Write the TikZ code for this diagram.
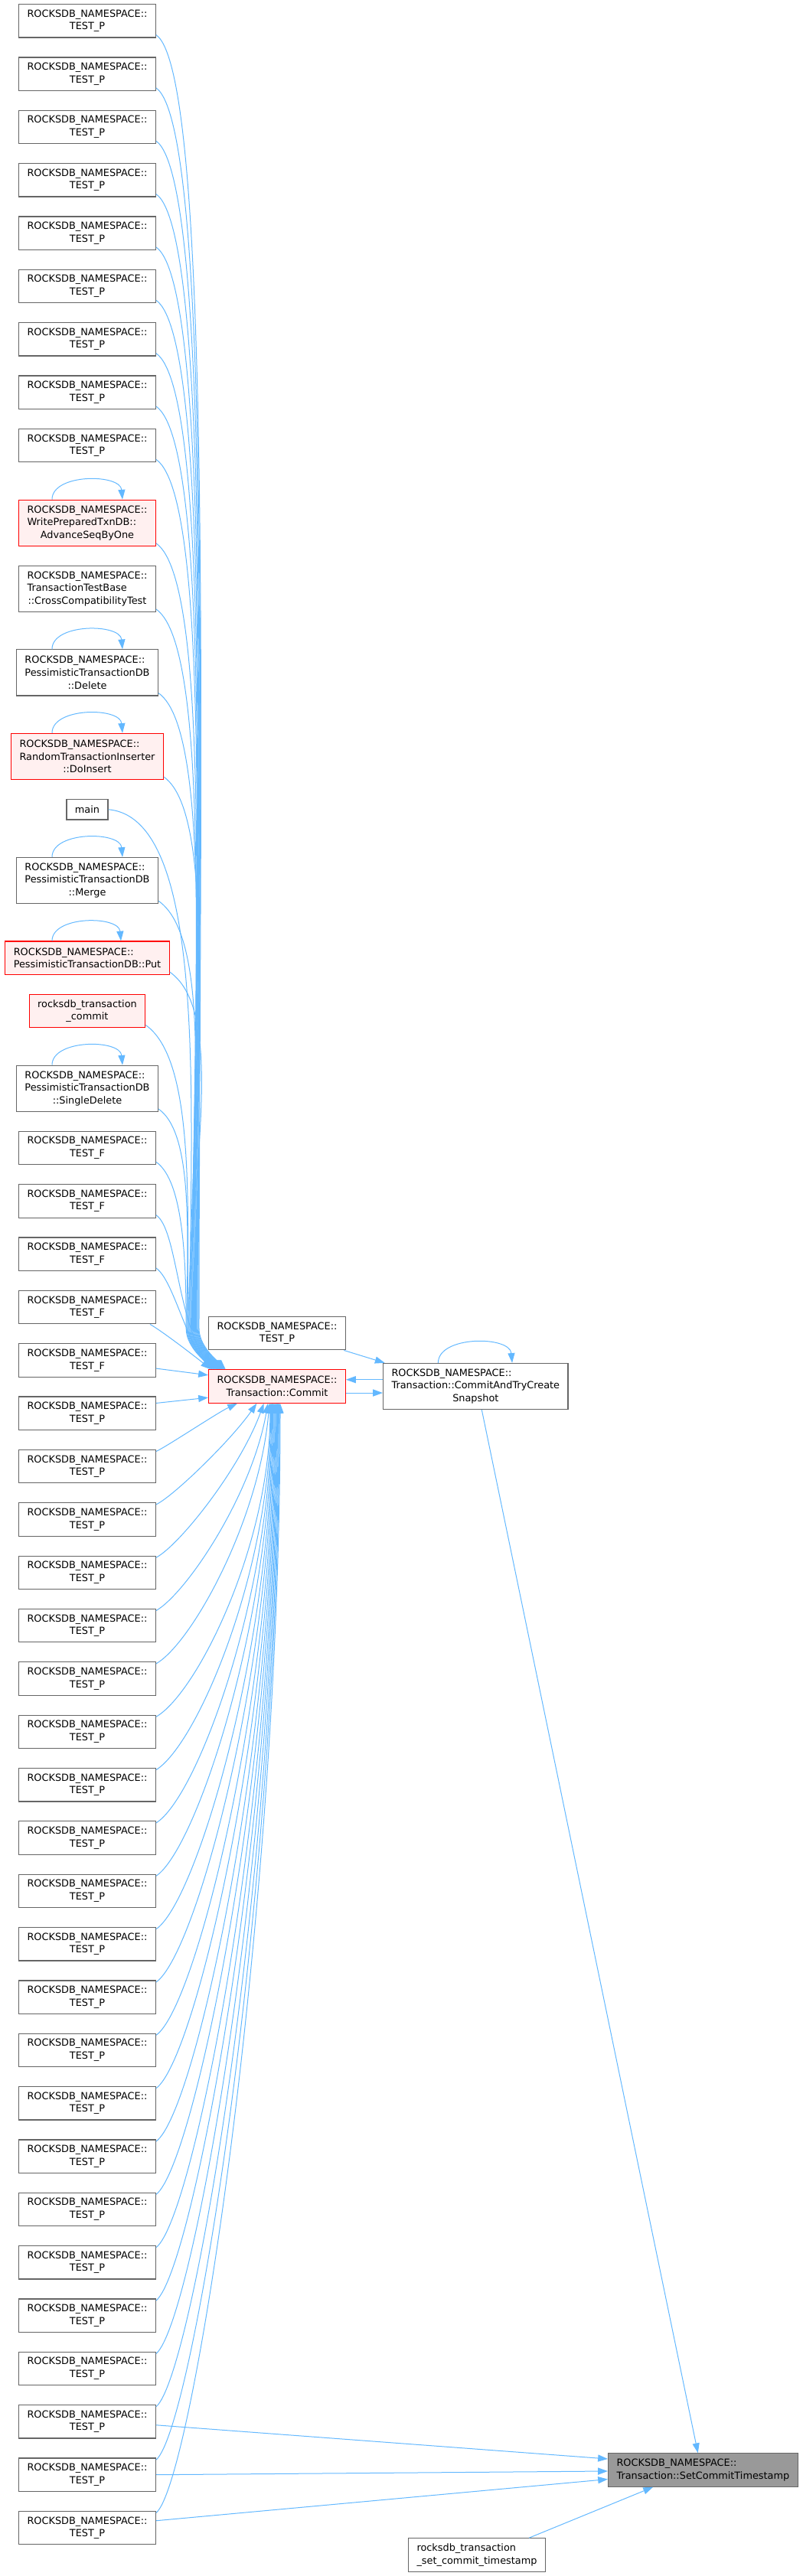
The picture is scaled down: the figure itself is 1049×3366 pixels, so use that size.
\documentclass[tikz,border=0pt]{standalone}
\usepackage{fontspec}
\setmainfont{DejaVu Sans}
\usepackage{xcolor}
\usepackage{tikz}
\usetikzlibrary{arrows.meta,positioning}
\definecolor{edgeblue}{RGB}{99,184,255}
\definecolor{boxgray}{RGB}{102,102,102}
\definecolor{hlred}{RGB}{255,0,0}
\definecolor{hlfill}{RGB}{255,240,240}
\definecolor{curfill}{RGB}{153,153,153}

\begin{document}
\begin{tikzpicture}[
    x=0.75pt, y=-0.75pt,
    node distance=18.56pt and 36pt,
    every node/.style={font=\fontsize{9.65}{12.5}\selectfont},
    box/.style={rectangle, draw=boxgray, fill=white, line width=0.9pt,
                inner xsep=8.2pt, inner ysep=2pt, minimum height=32.55pt, align=center},
    tall/.style={minimum height=45.08pt},
    redbox/.style={box, draw=hlred, fill=hlfill},
    curbox/.style={box, fill=curfill},
    arrow/.style={-{Triangle[length=9.6pt, width=6.8pt]}, draw=edgeblue, line width=0.75pt},
    into/.style={out=-90, in=135, out distance=16pt, in distance=16pt},
    selfloop/.style={out=90, in=95, looseness=0.95}
]
\useasboundingbox (0,0) rectangle (1049,3366);

% Left column -- callers of Transaction::Commit
\node[box] (tp1) at (114,27.3) {ROCKSDB\_NAMESPACE::\\TEST\_P};
\node[box, below=of tp1] (tp2) {ROCKSDB\_NAMESPACE::\\TEST\_P};
\node[box, below=of tp2] (tp3) {ROCKSDB\_NAMESPACE::\\TEST\_P};
\node[box, below=of tp3] (tp4) {ROCKSDB\_NAMESPACE::\\TEST\_P};
\node[box, below=of tp4] (tp5) {ROCKSDB\_NAMESPACE::\\TEST\_P};
\node[box, below=of tp5] (tp6) {ROCKSDB\_NAMESPACE::\\TEST\_P};
\node[box, below=of tp6] (tp7) {ROCKSDB\_NAMESPACE::\\TEST\_P};
\node[box, below=of tp7] (tp8) {ROCKSDB\_NAMESPACE::\\TEST\_P};
\node[box, below=of tp8] (tp9) {ROCKSDB\_NAMESPACE::\\TEST\_P};
\node[redbox, tall, align=left, below=36.2pt of tp9] (advance) {ROCKSDB\_NAMESPACE::\\WritePreparedTxnDB::\\\hfil AdvanceSeqByOne};
\node[box, tall, align=left, below=of advance] (crosscompat) {ROCKSDB\_NAMESPACE::\\TransactionTestBase\\\hfil ::CrossCompatibilityTest};
\node[box, tall, align=left, below=36.2pt of crosscompat] (pdelete) {ROCKSDB\_NAMESPACE::\\PessimisticTransactionDB\\\hfil ::Delete};
\node[redbox, tall, align=left, below=36.2pt of pdelete] (doinsert) {ROCKSDB\_NAMESPACE::\\RandomTransactionInserter\\\hfil ::DoInsert};
\node[box, minimum height=19.9pt, below=of doinsert] (main) {main};
\node[box, tall, align=left, below=36.2pt of main] (pmerge) {ROCKSDB\_NAMESPACE::\\PessimisticTransactionDB\\\hfil ::Merge};
\node[redbox, align=left, below=36.2pt of pmerge] (pput) {ROCKSDB\_NAMESPACE::\\PessimisticTransactionDB::Put};
\node[redbox, below=of pput] (txcommit) {rocksdb\_transaction\\\_commit};
\node[box, tall, align=left, below=36.2pt of txcommit] (singledel) {ROCKSDB\_NAMESPACE::\\PessimisticTransactionDB\\\hfil ::SingleDelete};
\node[box, below=of singledel] (tf1) {ROCKSDB\_NAMESPACE::\\TEST\_F};
\node[box, below=of tf1] (tf2) {ROCKSDB\_NAMESPACE::\\TEST\_F};
\node[box, below=of tf2] (tf3) {ROCKSDB\_NAMESPACE::\\TEST\_F};
\node[box, below=of tf3] (tf4) {ROCKSDB\_NAMESPACE::\\TEST\_F};
\node[box, below=of tf4] (tf5) {ROCKSDB\_NAMESPACE::\\TEST\_F};
\node[box, below=of tf5] (tp10) {ROCKSDB\_NAMESPACE::\\TEST\_P};
\node[box, below=of tp10] (tp11) {ROCKSDB\_NAMESPACE::\\TEST\_P};
\node[box, below=of tp11] (tp12) {ROCKSDB\_NAMESPACE::\\TEST\_P};
\node[box, below=of tp12] (tp13) {ROCKSDB\_NAMESPACE::\\TEST\_P};
\node[box, below=of tp13] (tp14) {ROCKSDB\_NAMESPACE::\\TEST\_P};
\node[box, below=of tp14] (tp15) {ROCKSDB\_NAMESPACE::\\TEST\_P};
\node[box, below=of tp15] (tp16) {ROCKSDB\_NAMESPACE::\\TEST\_P};
\node[box, below=of tp16] (tp17) {ROCKSDB\_NAMESPACE::\\TEST\_P};
\node[box, below=of tp17] (tp18) {ROCKSDB\_NAMESPACE::\\TEST\_P};
\node[box, below=of tp18] (tp19) {ROCKSDB\_NAMESPACE::\\TEST\_P};
\node[box, below=of tp19] (tp20) {ROCKSDB\_NAMESPACE::\\TEST\_P};
\node[box, below=of tp20] (tp21) {ROCKSDB\_NAMESPACE::\\TEST\_P};
\node[box, below=of tp21] (tp22) {ROCKSDB\_NAMESPACE::\\TEST\_P};
\node[box, below=of tp22] (tp23) {ROCKSDB\_NAMESPACE::\\TEST\_P};
\node[box, below=of tp23] (tp24) {ROCKSDB\_NAMESPACE::\\TEST\_P};
\node[box, below=of tp24] (tp25) {ROCKSDB\_NAMESPACE::\\TEST\_P};
\node[box, below=of tp25] (tp26) {ROCKSDB\_NAMESPACE::\\TEST\_P};
\node[box, below=of tp26] (tp27) {ROCKSDB\_NAMESPACE::\\TEST\_P};
\node[box, below=of tp27] (tp28) {ROCKSDB\_NAMESPACE::\\TEST\_P};
\node[box, below=of tp28] (tp29) {ROCKSDB\_NAMESPACE::\\TEST\_P};
\node[box, below=of tp29] (tp30) {ROCKSDB\_NAMESPACE::\\TEST\_P};
\node[box, below=of tp30] (tp31) {ROCKSDB\_NAMESPACE::\\TEST\_P};

% Middle -- Commit and CommitAndTryCreateSnapshot
\node[redbox] (commit) at (362,1811.5) {ROCKSDB\_NAMESPACE::\\Transaction::Commit};
\node[box, above=of commit] (tpmid) {ROCKSDB\_NAMESPACE::\\TEST\_P};
\node[box, tall, align=left, right=of commit] (commitsnap) {ROCKSDB\_NAMESPACE::\\Transaction::CommitAndTryCreate\\\hfil Snapshot};

% Right -- the function itself
\node[curbox, align=left] (setts) at (918.4,3227.5) {ROCKSDB\_NAMESPACE::\\Transaction::SetCommitTimestamp};
\node[box, align=left] (txsetts) at (623,3338.5) {rocksdb\_transaction\\\_set\_commit\_timestamp};

% Recursive calls
\draw[arrow] ([xshift=-34.5pt]advance.north) to[selfloop] ([xshift=34.5pt]advance.north);
\draw[arrow] ([xshift=-34.5pt]pdelete.north) to[selfloop] ([xshift=34.5pt]pdelete.north);
\draw[arrow] ([xshift=-34.5pt]doinsert.north) to[selfloop] ([xshift=34.5pt]doinsert.north);
\draw[arrow] ([xshift=-34.5pt]pmerge.north) to[selfloop] ([xshift=34.5pt]pmerge.north);
\draw[arrow] ([xshift=-34.5pt]pput.north) to[selfloop] ([xshift=33pt]pput.north);
\draw[arrow] ([xshift=-34.5pt]singledel.north) to[selfloop] ([xshift=34.5pt]singledel.north);
\draw[arrow] ([xshift=-36.7pt]commitsnap.north) to[selfloop] ([xshift=35.8pt]commitsnap.north);

% Upper callers -> Commit (top left corner)
\draw[arrow] ([yshift=3pt]tp1.south east) .. controls +(-35:70pt) and +(90:507pt) .. ([xshift=-9pt,yshift=40pt]commit.north west) to[into] ([xshift=17pt]commit.north west);
\draw[arrow] ([yshift=3pt]tp2.south east) .. controls +(-35:70pt) and +(90:486pt) .. ([xshift=-9.7pt,yshift=40pt]commit.north west) to[into] ([xshift=16.3pt]commit.north west);
\draw[arrow] ([yshift=3pt]tp3.south east) .. controls +(-35:70pt) and +(90:465pt) .. ([xshift=-10.4pt,yshift=40pt]commit.north west) to[into] ([xshift=15.6pt]commit.north west);
\draw[arrow] ([yshift=3pt]tp4.south east) .. controls +(-35:70pt) and +(90:445pt) .. ([xshift=-11.1pt,yshift=40pt]commit.north west) to[into] ([xshift=14.9pt]commit.north west);
\draw[arrow] ([yshift=3pt]tp5.south east) .. controls +(-35:70pt) and +(90:424pt) .. ([xshift=-11.8pt,yshift=40pt]commit.north west) to[into] ([xshift=14.2pt]commit.north west);
\draw[arrow] ([yshift=3pt]tp6.south east) .. controls +(-35:70pt) and +(90:403pt) .. ([xshift=-12.5pt,yshift=40pt]commit.north west) to[into] ([xshift=13.5pt]commit.north west);
\draw[arrow] ([yshift=3pt]tp7.south east) .. controls +(-35:70pt) and +(90:382pt) .. ([xshift=-13.2pt,yshift=40pt]commit.north west) to[into] ([xshift=12.8pt]commit.north west);
\draw[arrow] ([yshift=3pt]tp8.south east) .. controls +(-35:70pt) and +(90:361pt) .. ([xshift=-13.9pt,yshift=40pt]commit.north west) to[into] ([xshift=12.1pt]commit.north west);
\draw[arrow] ([yshift=3pt]tp9.south east) .. controls +(-35:70pt) and +(90:341pt) .. ([xshift=-14.6pt,yshift=40pt]commit.north west) to[into] ([xshift=11.4pt]commit.north west);
\draw[arrow] ([yshift=3pt]advance.south east) .. controls +(-35:70pt) and +(90:308pt) .. ([xshift=-15.3pt,yshift=40pt]commit.north west) to[into] ([xshift=10.7pt]commit.north west);
\draw[arrow] ([yshift=3pt]crosscompat.south east) .. controls +(-35:70pt) and +(90:282pt) .. ([xshift=-16pt,yshift=40pt]commit.north west) to[into] ([xshift=10pt]commit.north west);
\draw[arrow] ([yshift=3pt]pdelete.south east) .. controls +(-35:70pt) and +(90:249pt) .. ([xshift=-16.7pt,yshift=40pt]commit.north west) to[into] ([xshift=9.3pt]commit.north west);
\draw[arrow] ([yshift=3pt]doinsert.south east) .. controls +(-35:70pt) and +(90:216pt) .. ([xshift=-17.4pt,yshift=40pt]commit.north west) to[into] ([xshift=8.6pt]commit.north west);
\draw[arrow] (main.east) .. controls +(-5:100pt) and +(90:203pt) .. ([xshift=-18.1pt,yshift=40pt]commit.north west) to[into] ([xshift=7.9pt]commit.north west);
\draw[arrow] ([yshift=3pt]pmerge.south east) .. controls +(-35:70pt) and +(90:168pt) .. ([xshift=-18.8pt,yshift=40pt]commit.north west) to[into] ([xshift=7.2pt]commit.north west);
\draw[arrow] ([yshift=3pt]pput.south east) .. controls +(-35:70pt) and +(90:140pt) .. ([xshift=-19.5pt,yshift=40pt]commit.north west) to[into] ([xshift=6.5pt]commit.north west);
\draw[arrow] ([yshift=3pt]txcommit.south east) .. controls +(-35:59pt) and +(90:119pt) .. ([xshift=-20.2pt,yshift=40pt]commit.north west) to[into] ([xshift=5.8pt]commit.north west);
\draw[arrow] ([yshift=3pt]singledel.south east) .. controls +(-35:43pt) and +(90:86pt) .. ([xshift=-20.9pt,yshift=40pt]commit.north west) to[into] ([xshift=5.1pt]commit.north west);
\draw[arrow] ([yshift=3pt]tf1.south east) .. controls +(-35:33pt) and +(90:65pt) .. ([xshift=-21.6pt,yshift=40pt]commit.north west) to[into] ([xshift=4.4pt]commit.north west);
\draw[arrow] ([yshift=3pt]tf2.south east) .. controls +(-35:25pt) and +(125:60pt) .. ([xshift=3.7pt]commit.north west);
\draw[arrow] ([yshift=3pt]tf3.south east) .. controls +(-35:20pt) and +(130:40pt) .. ([xshift=3pt]commit.north west);
\draw[arrow] ([xshift=-6pt]tf4.south east) .. controls +(-30:15pt) and +(140:15pt) .. ([xshift=2.3pt]commit.north west);

% Side callers -> Commit (left side)
\draw[arrow] ([yshift=-8pt]tf5.east) -- ([yshift=11pt]commit.west);
\draw[arrow] ([yshift=10pt]tp10.east) -- ([yshift=-11pt]commit.west);

% Lower callers -> Commit (bottom)
\draw[arrow] ([yshift=-2pt]tp11.north east) .. controls +(25:12pt) and +(-155:21pt) .. ([xshift=-39pt]commit.south);
\draw[arrow] ([yshift=-2pt]tp12.north east) .. controls +(25:18pt) and +(-125:45pt) .. ([xshift=-20pt]commit.south);
\draw[arrow] ([yshift=-2pt]tp13.north east) .. controls +(28:26pt) and +(-110:68pt) .. ([xshift=-13pt]commit.south);
\draw[arrow] ([yshift=-2pt]tp14.north east) .. controls +(30:34pt) and +(-100:92pt) .. ([xshift=-9pt]commit.south);
\draw[arrow] ([yshift=-2pt]tp15.north east) .. controls +(30:40pt) and +(-95:116pt) .. ([xshift=-7.5pt]commit.south);
\draw[arrow] ([yshift=-2pt]tp16.north east) .. controls +(30:46pt) and +(-90:139pt) .. ([xshift=-6.8pt]commit.south);
\draw[arrow] ([yshift=-2pt]tp17.north east) .. controls +(32:48pt) and +(-90:163pt) .. ([xshift=-6.2pt]commit.south);
\draw[arrow] ([yshift=-2pt]tp18.north east) .. controls +(32:48pt) and +(-90:186pt) .. ([xshift=-5.5pt]commit.south);
\draw[arrow] ([yshift=-2pt]tp19.north east) .. controls +(34:48pt) and +(-90:210pt) .. ([xshift=-4.9pt]commit.south);
\draw[arrow] ([yshift=-2pt]tp20.north east) .. controls +(34:48pt) and +(-90:234pt) .. ([xshift=-4.2pt]commit.south);
\draw[arrow] ([yshift=-2pt]tp21.north east) .. controls +(35:48pt) and +(-90:257pt) .. ([xshift=-3.6pt]commit.south);
\draw[arrow] ([yshift=-2pt]tp22.north east) .. controls +(35:48pt) and +(-90:281pt) .. ([xshift=-2.9pt]commit.south);
\draw[arrow] ([yshift=-2pt]tp23.north east) .. controls +(36:48pt) and +(-90:304pt) .. ([xshift=-2.2pt]commit.south);
\draw[arrow] ([yshift=-2pt]tp24.north east) .. controls +(36:48pt) and +(-90:328pt) .. ([xshift=-1.6pt]commit.south);
\draw[arrow] ([yshift=-2pt]tp25.north east) .. controls +(38:48pt) and +(-90:351pt) .. ([xshift=-0.9pt]commit.south);
\draw[arrow] ([yshift=-2pt]tp26.north east) .. controls +(38:48pt) and +(-90:375pt) .. ([xshift=-0.3pt]commit.south);
\draw[arrow] ([yshift=-2pt]tp27.north east) .. controls +(40:48pt) and +(-90:398pt) .. ([xshift=0.4pt]commit.south);
\draw[arrow] ([yshift=-2pt]tp28.north east) .. controls +(40:48pt) and +(-90:422pt) .. ([xshift=1pt]commit.south);
\draw[arrow] ([yshift=-2pt]tp29.north east) .. controls +(40:48pt) and +(-90:446pt) .. ([xshift=1.7pt]commit.south);
\draw[arrow] ([yshift=-2pt]tp30.north east) .. controls +(40:48pt) and +(-90:469pt) .. ([xshift=2.3pt]commit.south);
\draw[arrow] ([yshift=-2pt]tp31.north east) .. controls +(40:48pt) and +(-90:493pt) .. ([xshift=3pt]commit.south);

% Commit <-> CommitAndTryCreateSnapshot
\draw[arrow] ([xshift=-2pt]tpmid.south east) -- ([xshift=2pt]commitsnap.north west);
\draw[arrow] ([yshift=6.6pt]commitsnap.west) -- ([yshift=6.6pt]commit.east);
\draw[arrow] ([yshift=-6.4pt]commit.east) -- ([yshift=-6.4pt]commitsnap.west);

% Callers of SetCommitTimestamp
\draw[arrow] ([xshift=6pt]commitsnap.south) -- ([xshift=-5pt]setts.north);
\draw[arrow] ([yshift=-3.3pt]tp29.east) -- ([yshift=10.9pt]setts.west);
\draw[arrow] (tp30.east) -- ([yshift=-1.1pt]setts.west);
\draw[arrow] ([yshift=7pt]tp31.east) -- ([yshift=-9pt]setts.west);
\draw[arrow] ([xshift=-16.5pt]txsetts.north east) -- ([xshift=-49pt]setts.south);

\end{tikzpicture}
\end{document}
